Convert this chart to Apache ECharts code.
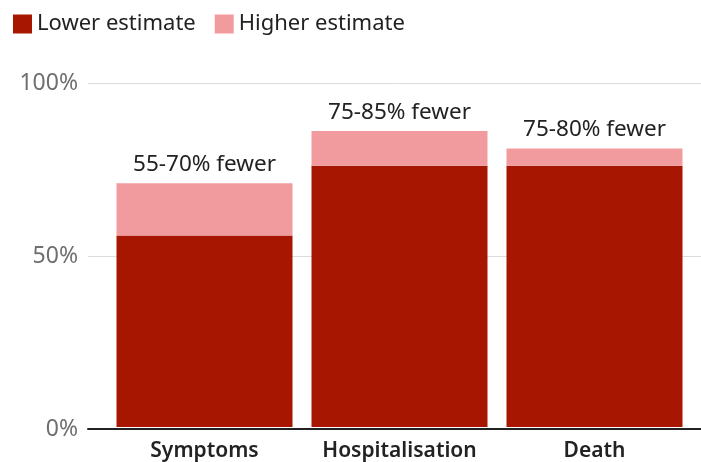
<!DOCTYPE html>
<html>
<head>
<meta charset="utf-8">
<script src="https://cdn.jsdelivr.net/npm/echarts@6/dist/echarts.min.js"></script>
<style>
  html, body { margin: 0; padding: 0; background: #fff; }
  #chart { width: 701px; height: 462px; }
</style>
</head>
<body>
<div id="chart"></div>
<script>
// Reduction in risk, by outcome
const categories = ['Symptoms', 'Hospitalisation', 'Death'];
const lowerEstimate = [55, 75, 75];
const higherEstimate = [70, 85, 80];
const yTicks = [0, 50, 100];

// The pale segment stacks on the dark one, so it holds the difference
const higherExtra = higherEstimate.map((v, i) => v - lowerEstimate[i]);
const rangeLabels = categories.map((_, i) => lowerEstimate[i] + '-' + higherEstimate[i] + '% fewer');

const FONT = '"Noto Sans", sans-serif';
const DARK = '#a71600';
const LIGHT = '#f29b9e';

const chart = echarts.init(document.getElementById('chart'), null, { renderer: 'canvas' });

chart.setOption({
  animation: false,
  textStyle: { fontFamily: FONT },
  legend: {
    left: 8,
    top: 8,
    itemWidth: 19,
    itemHeight: 19,
    itemGap: 19,
    icon: 'rect',
    textStyle: { fontFamily: FONT, fontSize: 22, color: '#222' },
    data: ['Lower estimate', 'Higher estimate']
  },
  grid: [
    // background grid: wider, carries gridlines, y labels and the baseline
    { left: 88, right: 0, top: 83, bottom: 33 },
    // bars
    { left: 107, right: 9, top: 83, bottom: 33 }
  ],
  xAxis: [
    {
      gridIndex: 0, type: 'value', min: 0, max: 1, z: 10,
      axisLine: { show: true, lineStyle: { color: '#222', width: 2 } },
      axisTick: { show: false }, axisLabel: { show: false }, splitLine: { show: false }
    },
    {
      gridIndex: 1, type: 'category', data: categories,
      axisLine: { show: false }, axisTick: { show: false },
      axisLabel: {
        interval: 0, hideOverlap: false,
        fontFamily: FONT, fontSize: 21, fontWeight: 600, color: '#222', margin: 14
      }
    }
  ],
  yAxis: [
    {
      gridIndex: 0, type: 'value', min: yTicks[0], max: yTicks[yTicks.length - 1], interval: 50,
      axisLine: { show: false }, axisTick: { show: false },
      axisLabel: {
        fontFamily: FONT, fontSize: 23, color: '#6f6f6f', margin: 10,
        formatter: v => yTicks.includes(v) ? v + '%' : ''
      },
      splitLine: { lineStyle: { color: '#dcdcdc', width: 1 } }
    },
    {
      gridIndex: 1, type: 'value', min: 0, max: 98.8, show: false
    }
  ],
  series: [
    {
      name: 'Lower estimate', type: 'bar', stack: 'risk',
      xAxisIndex: 1, yAxisIndex: 1,
      barWidth: 176,
      itemStyle: { color: DARK },
      data: lowerEstimate
    },
    {
      name: 'Higher estimate', type: 'bar', stack: 'risk',
      xAxisIndex: 1, yAxisIndex: 1,
      barWidth: 176,
      itemStyle: { color: LIGHT },
      label: {
        show: true, position: 'top', distance: 7,
        fontFamily: FONT, fontSize: 22.5, color: '#222',
        formatter: p => rangeLabels[p.dataIndex]
      },
      data: higherExtra
    }
  ]
});
</script>
</body>
</html>
